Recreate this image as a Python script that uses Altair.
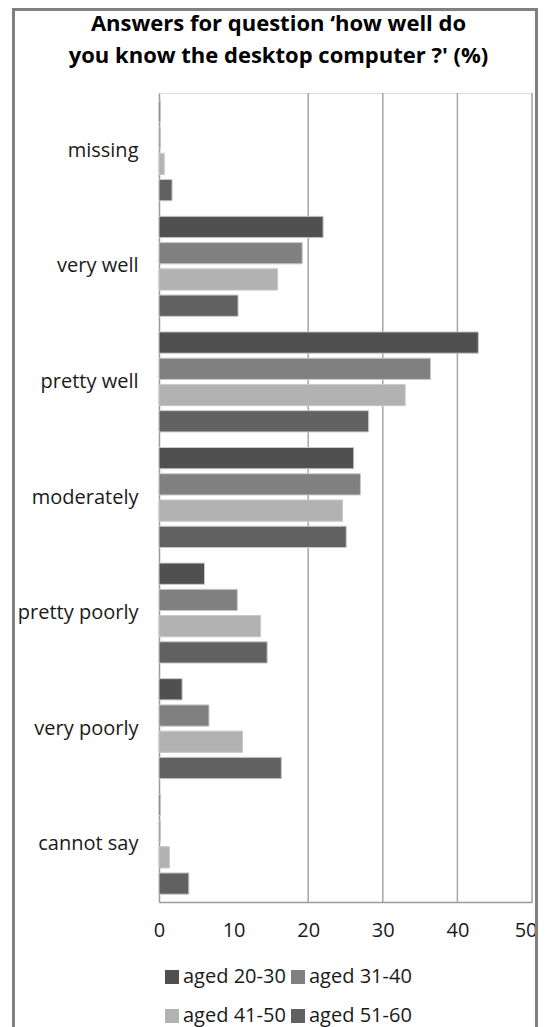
import altair as alt
import pandas as pd

categories = ["missing", "very well", "pretty well", "moderately",
              "pretty poorly", "very poorly", "cannot say"]
series = ["aged 20-30", "aged 31-40", "aged 41-50", "aged 51-60"]
aged_20_30 = [0.2, 22.0, 42.8, 26.1, 6.1, 3.1, 0.2]
aged_31_40 = [0.2, 19.2, 36.4, 27.0, 10.5, 6.7, 0.2]
aged_41_50 = [0.7, 15.9, 33.0, 24.6, 13.6, 11.2, 1.4]
aged_51_60 = [1.75, 10.6, 28.1, 25.1, 14.5, 16.4, 4.0]
x_ticks = [0, 10, 20, 30, 40, 50]
grid_values = [20, 30, 40, 50]
colors = ["#505050", "#808080", "#b2b2b2", "#616161"]

rows = []
for s, vals in zip(series, [aged_20_30, aged_31_40, aged_41_50, aged_51_60]):
    for c, v in zip(categories, vals):
        rows.append({"category": c, "series": s, "value": v})
df = pd.DataFrame(rows)

FONT = "Open Sans"
W, H = 373, 809

xscale = alt.Scale(domain=[0, 50], nice=False)
xaxis = alt.Axis(values=x_ticks, grid=False, ticks=False, title=None,
                 labelFontSize=20, labelPadding=18, labelColor="#1a1a1a",
                 labelFlush=False, labelOverlap=False,
                 labelAlign=alt.condition("datum.value == 50",
                                          alt.value("right"), alt.value("center")),
                 labelOffset=alt.condition("datum.value == 50",
                                           alt.value(5), alt.value(0)),
                 domainColor="#9a9a9a", domainWidth=1.5, labelFont=FONT)

grid = alt.Chart(pd.DataFrame({"g": grid_values})).mark_rule(
    color="#a6a6a6", strokeWidth=1.5
).encode(x=alt.X("g:Q", scale=xscale, axis=xaxis, title=None))

bars = alt.Chart(df).mark_bar(stroke="#c8c8c8", strokeWidth=1).encode(
    x=alt.X("value:Q", scale=xscale, axis=xaxis, title=None),
    y=alt.Y("category:N", sort=categories,
            scale=alt.Scale(paddingInner=0.135, paddingOuter=0.0675),
            axis=alt.Axis(title=None, ticks=False, labelFontSize=20, labelPadding=21,
                          labelColor="#1a1a1a", domainColor="#9a9a9a", domainWidth=1.5,
                          labelFont=FONT, labelLimit=200)),
    yOffset=alt.YOffset("series:N", sort=series,
                        scale=alt.Scale(paddingInner=0.19, paddingOuter=0)),
    color=alt.Color("series:N", sort=series,
                    scale=alt.Scale(domain=series, range=colors),
                    legend=alt.Legend(title=None, orient="none", legendX=3, legendY=874,
                                      columns=2, direction="horizontal",
                                      symbolType="square", symbolSize=196,
                                      symbolStrokeWidth=0, labelFontSize=20,
                                      labelFont=FONT, labelColor="#1a1a1a",
                                      labelOffset=1, columnPadding=2, rowPadding=19,
                                      padding=0)),
)

frame = alt.Chart(pd.DataFrame({"f": [0]})).mark_rect(
    fillOpacity=0, stroke="#808080", strokeWidth=3
).encode(x=alt.value(-145.5), x2=alt.value(377.5),
         y=alt.value(-83.5), y2=alt.value(1100))

chart = alt.layer(grid, bars, frame).properties(
    width=W, height=H,
    title=alt.Title(["Answers for question \u2018how well do",
                     "you know the desktop computer ?' (%)"],
                    fontSize=22, fontWeight="bold", font=FONT, color="#000000",
                    lineHeight=32, anchor="middle", offset=-60, dx=-67),
    autosize=alt.AutoSizeParams(type="none"),
    padding={"left": 151, "top": 85, "right": 6, "bottom": 125},
).configure_view(stroke=None).configure(font=FONT)

chart.save("out.html", embed_options={"renderer": "svg", "actions": False})
